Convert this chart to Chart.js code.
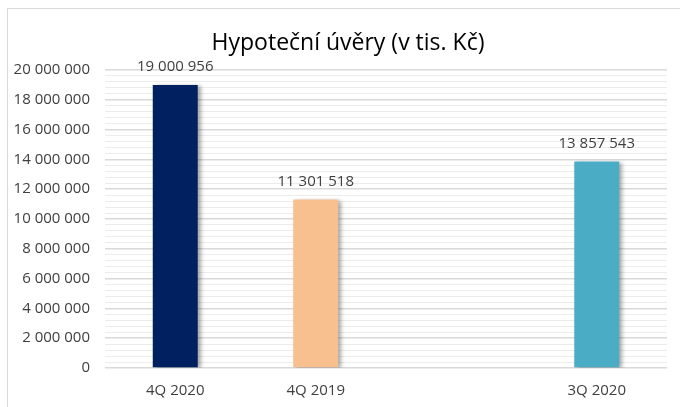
<!DOCTYPE html>
<html>
<head>
<meta charset="utf-8">
<script src="https://cdn.jsdelivr.net/npm/chart.js@4/dist/chart.umd.min.js"></script>
<style>
    body { margin: 0; background: #fff; }
    #wrap { width: 680px; height: 407px; position: relative; }
</style>
</head>
<body>
<div id="wrap"><canvas id="hypo-chart"></canvas></div>
<script>
const categories = ['4Q 2020', '4Q 2019', '', '3Q 2020'];
const values = [19000956, 11301518, null, 13857543];
const barColors = ['#002060', '#F8C08F', '#ffffff', '#4BACC6'];
const titleText = 'Hypoteční úvěry (v tis. Kč)';

const textColor = '#404040';
const fontFamily = '"Open Sans", sans-serif';

function spaced(v) {
    return String(v).replace(/\B(?=(\d{3})+(?!\d))/g, ' ');
}

// white background + thin frame on top/left like the original export
const framePlugin = {
    id: 'frame',
    beforeDraw(chart) {
        const ctx = chart.ctx;
        ctx.save();
        ctx.fillStyle = '#fff';
        ctx.fillRect(0, 0, chart.width, chart.height);
        ctx.strokeStyle = '#d9d9d9';
        ctx.lineWidth = 1;
        ctx.beginPath();
        ctx.moveTo(7.5, chart.height);
        ctx.lineTo(7.5, 8.5);
        ctx.lineTo(chart.width, 8.5);
        ctx.stroke();
        ctx.restore();
    }
};

// title is centred on the whole frame, not on the plot box
const titlePlugin = {
    id: 'frameTitle',
    afterDraw(chart) {
        const ctx = chart.ctx;
        ctx.save();
        ctx.font = '23px ' + fontFamily;
        ctx.fillStyle = '#000';
        ctx.textAlign = 'center';
        ctx.textBaseline = 'middle';
        ctx.fillText(titleText, 348, 43);
        ctx.restore();
    }
};

const shadowPlugin = {
    id: 'barShadow',
    beforeDatasetsDraw(chart) {
        const ctx = chart.ctx;
        ctx.save();
        ctx.shadowColor = 'rgba(0,0,0,0.35)';
        ctx.shadowBlur = 4;
        ctx.shadowOffsetX = 3;
        ctx.shadowOffsetY = 1;
    },
    afterDatasetsDraw(chart) {
        chart.ctx.restore();
    }
};

const valueLabels = {
    id: 'valueLabels',
    afterDraw(chart) {
        const ctx = chart.ctx;
        const meta = chart.getDatasetMeta(0);
        ctx.save();
        ctx.font = '15px ' + fontFamily;
        ctx.fillStyle = textColor;
        ctx.textAlign = 'center';
        ctx.textBaseline = 'middle';
        meta.data.forEach((bar, i) => {
            if (values[i] == null) return;
            ctx.fillText(spaced(values[i]), bar.x, bar.y - 18);
        });
        ctx.restore();
    }
};

const ctx = document.getElementById('hypo-chart').getContext('2d');
const chart = new Chart(ctx, {
    type: 'bar',
    data: {
        labels: categories,
        datasets: [{
            data: values,
            backgroundColor: barColors,
            borderWidth: 0,
            categoryPercentage: 1,
            barPercentage: 0.32
        }]
    },
    options: {
        responsive: true,
        maintainAspectRatio: false,
        animation: false,
        layout: {
            padding: { left: 0, right: 13, top: 70, bottom: 8 }
        },
        plugins: {
            legend: { display: false },
            tooltip: { enabled: false },
            title: { display: false }
        },
        scales: {
            x: {
                afterFit(scale) { scale.height = 31; },
                grid: { display: false, drawTicks: false },
                border: { display: false },
                ticks: {
                    color: textColor,
                    padding: 14,
                    font: { family: fontFamily, size: 15 },
                    maxRotation: 0
                }
            },
            y: {
                min: 0,
                max: 20000000,
                afterFit(scale) { scale.width = 105; },
                border: { display: false },
                grid: {
                    drawTicks: false,
                    color: c => c.tick.value % 2000000 === 0 ? '#d9d9d9' : '#ececec',
                    lineWidth: c => c.tick.value % 2000000 === 0 ? 1.5 : 1
                },
                ticks: {
                    stepSize: 400000,
                    autoSkip: false,
                    maxTicksLimit: 100,
                    padding: 15,
                    color: textColor,
                    font: { family: fontFamily, size: 15 },
                    callback: v => v % 2000000 === 0 ? spaced(v) : ''
                }
            }
        }
    },
    plugins: [framePlugin, shadowPlugin, valueLabels, titlePlugin]
});
</script>
</body>
</html>
